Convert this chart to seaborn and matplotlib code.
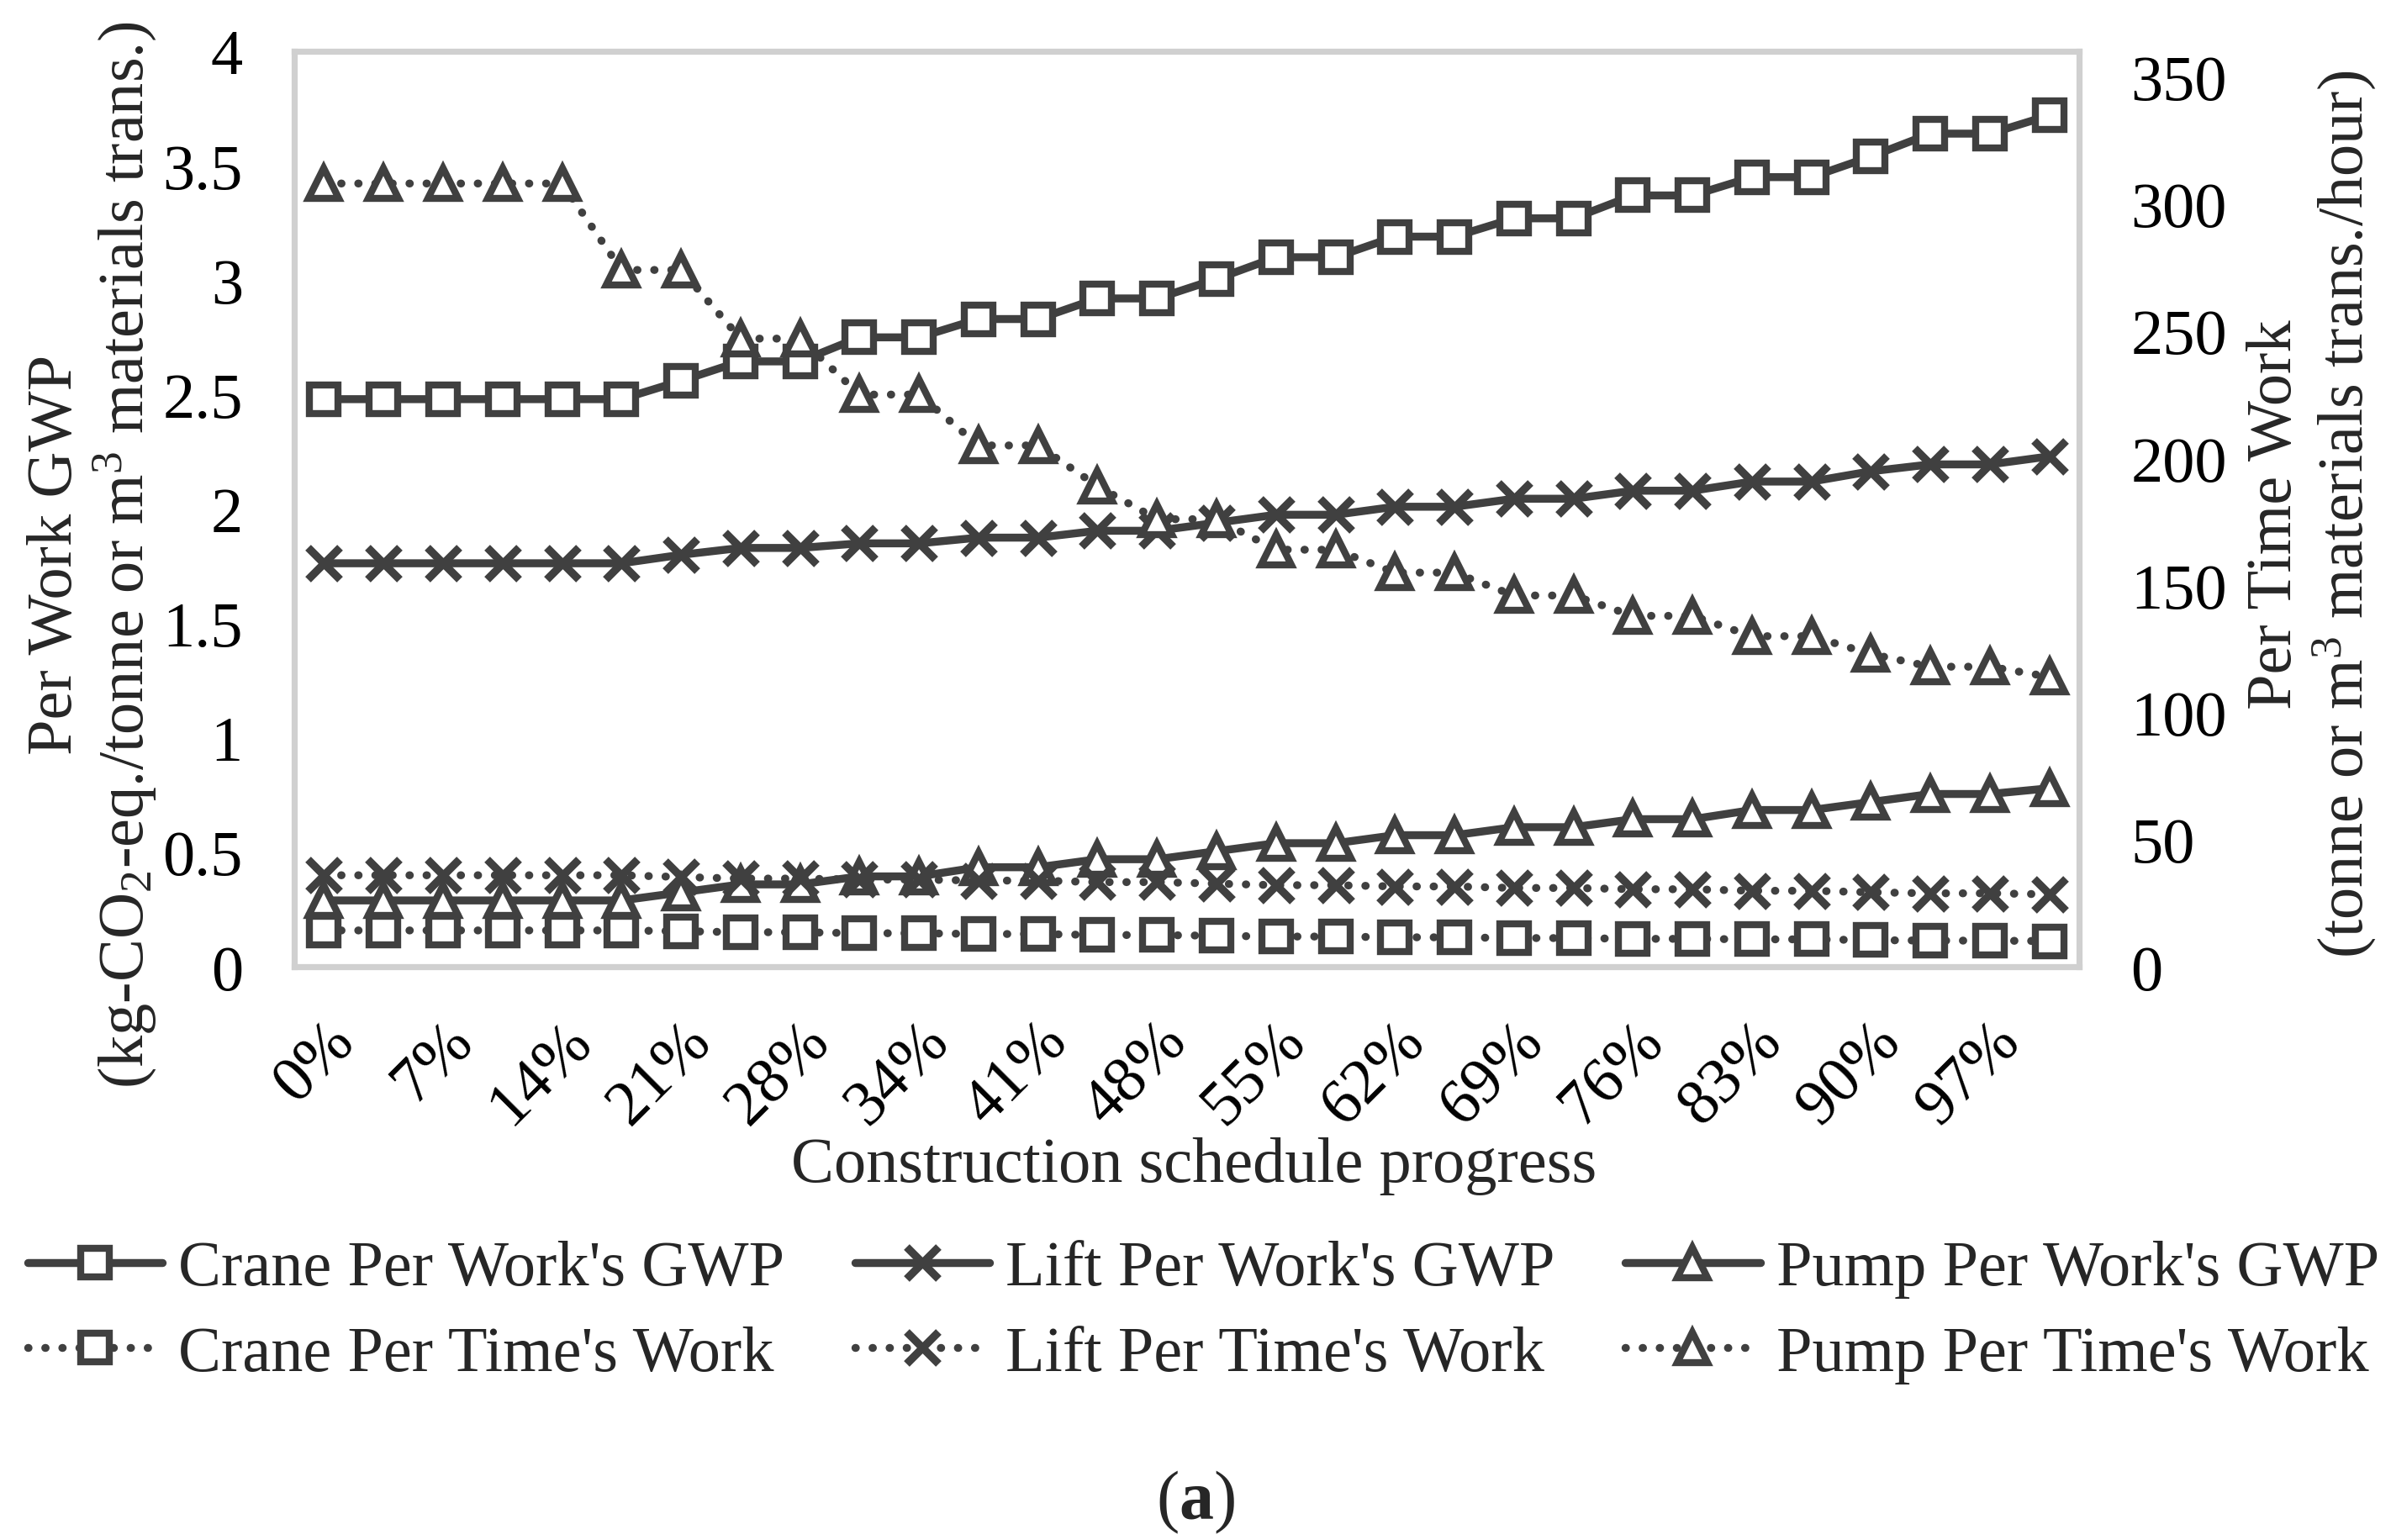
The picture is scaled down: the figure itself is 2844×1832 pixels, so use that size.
import matplotlib
matplotlib.use("Agg")
import matplotlib.pyplot as plt
import seaborn as sns
import pandas as pd
from matplotlib.ticker import FuncFormatter

# ---------------- data ----------------
progress = ["0%", "3%", "7%", "10%", "14%", "17%", "21%", "24%", "28%", "31%",
            "34%", "38%", "41%", "45%", "48%", "52%", "55%", "59%", "62%", "66%",
            "69%", "72%", "76%", "79%", "83%", "86%", "90%", "93%", "97%", "100%"]

crane_gwp = [2.48, 2.48, 2.48, 2.48, 2.48, 2.48, 2.56, 2.645, 2.645, 2.75,
             2.75, 2.83, 2.83, 2.92, 2.92, 3.005, 3.10, 3.10, 3.19, 3.19,
             3.27, 3.27, 3.37, 3.37, 3.45, 3.45, 3.54, 3.64, 3.64, 3.72]
lift_gwp = [1.763, 1.763, 1.763, 1.763, 1.763, 1.763, 1.80, 1.83, 1.83, 1.85,
            1.85, 1.875, 1.875, 1.905, 1.905, 1.94, 1.975, 1.975, 2.01, 2.01,
            2.045, 2.045, 2.08, 2.08, 2.12, 2.12, 2.165, 2.195, 2.195, 2.23]
pump_gwp = [0.29, 0.29, 0.29, 0.29, 0.29, 0.29, 0.325, 0.36, 0.36, 0.395,
            0.395, 0.435, 0.435, 0.47, 0.47, 0.505, 0.54, 0.54, 0.575, 0.575,
            0.61, 0.61, 0.645, 0.645, 0.685, 0.685, 0.72, 0.755, 0.755, 0.78]

crane_time = [14.3, 14.3, 14.3, 14.3, 14.3, 14.3, 14.0, 13.6, 13.6, 13.2,
              13.2, 12.9, 12.9, 12.5, 12.5, 12.2, 11.9, 11.9, 11.6, 11.6,
              11.3, 11.3, 11.0, 11.0, 10.8, 10.8, 10.5, 10.3, 10.3, 10.1]
lift_time = [36.0, 36.0, 36.0, 36.0, 36.0, 36.0, 35.3, 34.7, 34.7, 34.3,
             34.3, 33.9, 33.9, 33.3, 33.3, 32.7, 32.1, 32.1, 31.6, 31.6,
             31.0, 31.0, 30.5, 30.5, 29.9, 29.9, 29.3, 28.9, 28.9, 28.5]
pump_time = [308, 308, 308, 308, 308, 274, 274, 247, 247, 225,
             225, 205, 205, 189, 176, 176, 164, 164, 155, 155,
             146, 146, 138, 138, 130, 130, 123, 118, 118, 114]

left_ticks = [0, 0.5, 1, 1.5, 2, 2.5, 3, 3.5, 4]
right_ticks = [0, 50, 100, 150, 200, 250, 300, 350]

# ---------------- style ----------------
sns.set_theme(style="white")
plt.rcParams["font.family"] = ["Liberation Serif", "DejaVu Serif"]
plt.rcParams["mathtext.fontset"] = "custom"
plt.rcParams["mathtext.rm"] = "Liberation Serif"
plt.rcParams["mathtext.it"] = "Liberation Serif:italic"
plt.rcParams["mathtext.bf"] = "Liberation Serif:bold"

FS = 27.5
DARK = "#404040"
FRAME = "#d0d0d0"
LW = 3.4
DOT = (0, (0.05, 2.1))

fig = plt.figure(figsize=(14.22, 9.165), dpi=200)
ax = fig.add_axes([0.1231, 0.372, 0.7465, 0.5942])
ax2 = ax.twinx()

x = list(range(len(progress)))
df = pd.DataFrame({"x": x, "crane_gwp": crane_gwp, "lift_gwp": lift_gwp,
                   "pump_gwp": pump_gwp, "crane_time": crane_time,
                   "lift_time": lift_time, "pump_time": pump_time})

specs = [
    ("crane_gwp", ax, "s", "-", 12, "Crane Per Work's GWP"),
    ("lift_gwp", ax, "x", "-", 14, "Lift Per Work's GWP"),
    ("pump_gwp", ax, "^", "-", 13, "Pump Per Work's GWP"),
    ("crane_time", ax2, "s", DOT, 12, "Crane Per Time's Work"),
    ("lift_time", ax2, "x", DOT, 14, "Lift Per Time's Work"),
    ("pump_time", ax2, "^", DOT, 13, "Pump Per Time's Work"),
]
handles = {}
for col, a, mk, ls, ms, lab in specs:
    sns.lineplot(data=df, x="x", y=col, ax=a, color=DARK, marker=mk,
                 linestyle=ls, linewidth=LW, markersize=ms,
                 markerfacecolor="white", markeredgecolor=DARK,
                 markeredgewidth=3.4 if mk == "x" else 3.0,
                 dash_capstyle="round", legend=False, label=lab)
    handles[lab] = a.get_lines()[-1]

ax.set_xlim(-0.5, len(progress) - 0.5)
ax.set_ylim(0, 4)
ax2.set_ylim(0, 360)
ax.set_yticks(left_ticks)
ax2.set_yticks(right_ticks)
ax.yaxis.set_major_formatter(FuncFormatter(lambda v, p: f"{v:g}"))
ax2.yaxis.set_major_formatter(FuncFormatter(lambda v, p: f"{v:g}"))
ax.set_xticks(x[::2])
ax.set_xticklabels(progress[::2], rotation=45, ha="right", va="top",
                   rotation_mode="anchor")
ax.tick_params(axis="both", length=0, labelsize=FS, colors="black")
ax.tick_params(axis="y", pad=22)
ax.tick_params(axis="x", pad=19)
ax2.tick_params(axis="y", length=0, labelsize=FS, pad=22, colors="black")
ax.set_xlabel("")
ax.set_ylabel("")
ax2.set_ylabel("")
for s in ax.spines.values():
    s.set_color(FRAME)
    s.set_linewidth(2.6)
for s in ax2.spines.values():
    s.set_visible(False)
ax.grid(False)
ax2.grid(False)

fig.text(0.4995, 1 - 1388 / 1833, "Construction schedule progress",
         ha="center", va="center", fontsize=FS)
fig.text(0.0387, 1 - 660 / 1833,
         "Per Work GWP\n(kg-CO$_2$-eq./tonne or m$^3$ materials trans.)",
         rotation=90, ha="center", va="center", fontsize=FS,
         multialignment="center", linespacing=1.12)
fig.text(0.967, 1 - 612 / 1833,
         "Per Time Work\n(tonne or m$^3$ materials trans./hour)",
         rotation=90, ha="center", va="center", fontsize=FS,
         multialignment="center", linespacing=1.12)

order = ["Crane Per Work's GWP", "Crane Per Time's Work",
         "Lift Per Work's GWP", "Lift Per Time's Work",
         "Pump Per Work's GWP", "Pump Per Time's Work"]
fig.legend([handles[k] for k in order], order, ncol=3, frameon=False,
           fontsize=FS, loc="upper left",
           bbox_to_anchor=(0.0115, 1 - 1476 / 1833, 0.9835, 0),
           mode="expand", handlelength=2.1, handletextpad=0.25,
           labelspacing=0.42, borderaxespad=0, borderpad=0)

fig.text(0.5, 1 - 1787 / 1833, "($\\mathbf{a}$)", ha="center", va="center",
         fontsize=FS + 2)

fig.savefig("out.png", dpi=200, facecolor="white")
